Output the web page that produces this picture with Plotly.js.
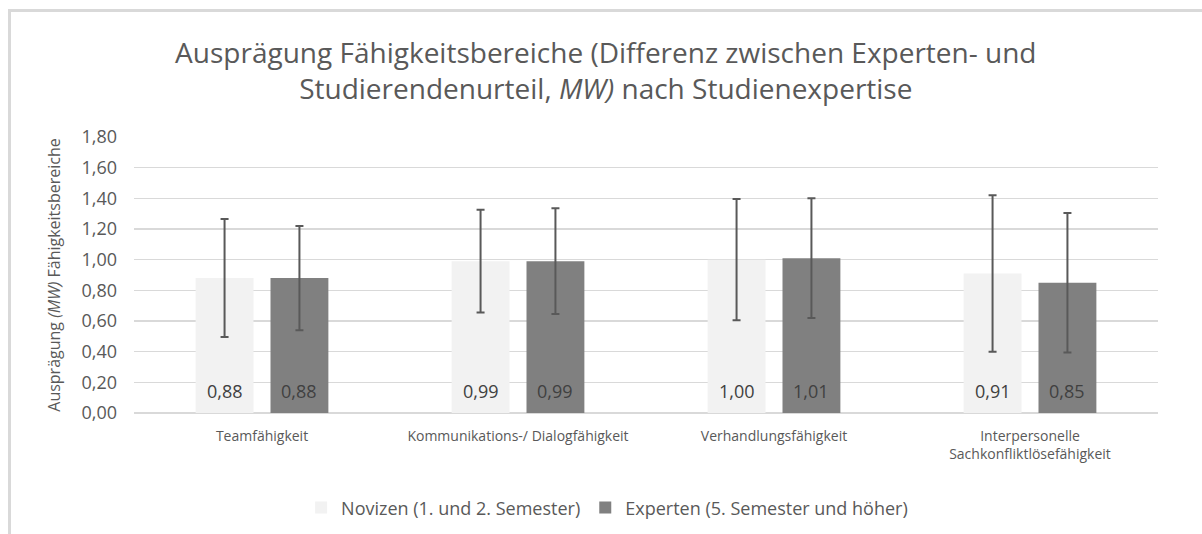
<!DOCTYPE html>
<html>
<head>
<meta charset="utf-8">
<script src="https://cdn.plot.ly/plotly-3.0.1.min.js"></script>
<style>
  html, body { margin: 0; padding: 0; background: #ffffff; }
  #chart { position: absolute; left: 0; top: 0; width: 1202px; height: 534px; }
  #frame { position: absolute; left: 8px; top: 9px; width: 1194px; height: 525px;
           border-left: 3px solid #d9d9d9; border-top: 3px solid #d9d9d9; pointer-events: none; }
</style>
</head>
<body>
<div id="chart"></div>
<div id="frame"></div>
<script>
const categories = [
  "Teamfähigkeit",
  "Kommunikations-/ Dialogfähigkeit",
  "Verhandlungsfähigkeit",
  "Interpersonelle<br>Sachkonfliktlösefähigkeit"
];
const seriesNames = ["Novizen (1. und 2. Semester)", "Experten (5. Semester und höher)"];
const novizenMW = [0.88, 0.99, 1.00, 0.91];
const expertenMW = [0.88, 0.99, 1.01, 0.85];
const novizenSD = [0.385, 0.335, 0.395, 0.51];
const expertenSD = [0.34, 0.345, 0.39, 0.455];
const yTickVals = [0, 0.2, 0.4, 0.6, 0.8, 1.0, 1.2, 1.4, 1.6, 1.8];

const W = 1202, H = 534;
const margin = { l: 134, r: 44, t: 137, b: 121, autoexpand: false };
const bargap = 0.415, bargroupgap = 0.227;

const errStyle = { type: "data", visible: true, color: "#595959", thickness: 2, width: 4 };

const traces = [
  {
    type: "bar", name: seriesNames[0], x: categories, y: novizenMW,
    marker: { color: "#f2f2f2" },
    error_y: Object.assign({ array: novizenSD }, errStyle),
    hoverinfo: "none"
  },
  {
    type: "bar", name: seriesNames[1], x: categories, y: expertenMW,
    marker: { color: "#808080" },
    error_y: Object.assign({ array: expertenSD }, errStyle),
    hoverinfo: "none"
  }
];

// data labels near the bar base, placed through the category axis
const plotW = W - margin.l - margin.r;
const slotShift = (1 - bargap) * (plotW / categories.length) / 4;
const fmt = v => v.toFixed(2).replace(".", ",");
const annotations = [];
[novizenMW, expertenMW].forEach((vals, si) => {
  vals.forEach((v, i) => {
    annotations.push({
      x: categories[i], y: 0, xref: "x", yref: "y",
      text: fmt(v), showarrow: false,
      xanchor: "center", yanchor: "bottom",
      xshift: si === 0 ? -slotShift : slotShift, yshift: 8,
      font: { family: "Open Sans, sans-serif", size: 18, color: "#404040" }
    });
  });
});

const layout = {
  width: W, height: H,
  paper_bgcolor: "rgba(0,0,0,0)", plot_bgcolor: "#ffffff",
  separators: ", ",
  margin: margin,
  barmode: "group", bargap: bargap, bargroupgap: bargroupgap,
  font: { family: "Open Sans, sans-serif", color: "#595959" },
  title: {
    text: "Ausprägung Fähigkeitsbereiche (Differenz zwischen Experten- und<br>Studierendenurteil, <i>MW)</i> nach Studienexpertise",
    font: { family: "Open Sans, sans-serif", size: 28, color: "#595959" },
    x: 0.504, xanchor: "center", xref: "container",
    y: 0.882, yanchor: "middle", yref: "container"
  },
  xaxis: {
    type: "category", automargin: false,
    tickfont: { family: "Open Sans, sans-serif", size: 14, color: "#595959" },
    showgrid: false, showline: false, ticks: "", ticklabelstandoff: 13
  },
  yaxis: {
    range: [0, 1.8], tickvals: yTickVals, tickformat: ".2f", automargin: false,
    tickfont: { family: "Open Sans, sans-serif", size: 18, color: "#595959" },
    gridcolor: "#d9d9d9", gridwidth: 1.5,
    zeroline: true, zerolinecolor: "#d9d9d9", zerolinewidth: 1.6,
    showline: false, ticks: "", ticklabelstandoff: 16,
    title: {
      text: "Ausprägung <i>(MW)</i> Fähigkeitsbereiche",
      font: { family: "Open Sans, sans-serif", size: 16, color: "#595959" },
      standoff: 16
    }
  },
  annotations: annotations,
  showlegend: true,
  legend: {
    orientation: "h", x: 0.462, xanchor: "center",
    yref: "container", y: 0.049, yanchor: "middle",
    font: { family: "Open Sans, sans-serif", size: 18, color: "#595959" },
    itemwidth: 30, traceorder: "normal", bgcolor: "rgba(0,0,0,0)"
  }
};

Plotly.newPlot("chart", traces, layout, { displayModeBar: false, staticPlot: true });
</script>
</body>
</html>
